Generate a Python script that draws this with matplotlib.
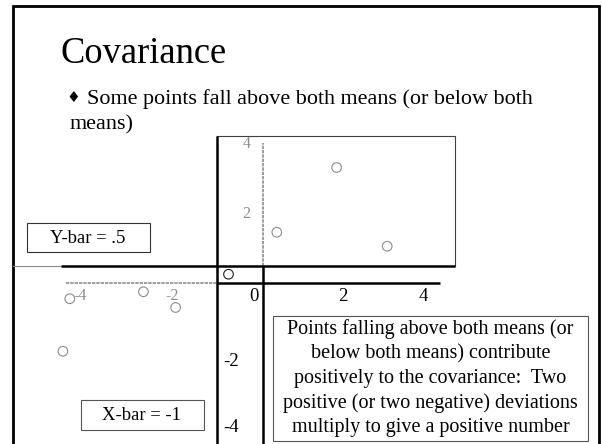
"""
Covariance slide: a scatter of (x, y) pairs with the two means marked,
plus the explanatory text boxes that go with it.

Output : out.png
"""

import matplotlib
matplotlib.use("Agg")   # no display needed — saves to file
import matplotlib.pyplot as plt
from matplotlib.patches import Rectangle

# ── Data ──────────────────────────────────────────────────────
X_VALS = [-4.2, -2.6, -1.9, -0.75, 0.3, 1.6, 2.7, -4.35]
Y_VALS = [-0.45, -0.25, -0.7, 0.25, 1.45, 3.3, 1.05, -1.95]
X_BAR = -1
Y_BAR = 0.5

GRAY_XTICKS = [-4, -2]
GRAY_YTICKS = [2, 4]
BLACK_TICK_LABELS = ["0", "2", "4", "-2", "-4"]

TITLE = "Covariance"
BULLET_LINES = ["Some points fall above both means (or below both",
                "means)"]
NOTE_LINES = [
    "Points falling above both means (or",
    "below both means) contribute",
    "positively to the covariance:  Two",
    "positive (or two negative) deviations",
    "multiply to give a positive number",
]

# ── Layout (pixels, origin top-left) ──────────────────────────
W, H = 602, 444
ORIGIN = (263, 283)          # where (0, 0) of the scatter sits
PX_PER_X = 46
PX_PER_Y = 35
BLACK_TICK_POS = [(254, 296), (343, 296), (423, 296), (231, 361), (231, 427)]

SERIF = "Liberation Serif"
BLACK_LW = 1.8
GRAY = "#8c8c8c"

fig = plt.figure(figsize=(W / 100, H / 100), dpi=100)
fig.patch.set_facecolor("white")

# slide layer in pixel coordinates
ax_s = fig.add_axes([0, 0, 1, 1])
ax_s.set_xlim(0, W)
ax_s.set_ylim(H, 0)
ax_s.axis("off")

# scatter layer in data coordinates, same footprint as the slide
ax = fig.add_axes([0, 0, 1, 1])
ax.set_xlim(-ORIGIN[0] / PX_PER_X, (W - ORIGIN[0]) / PX_PER_X)
ax.set_ylim((ORIGIN[1] - H) / PX_PER_Y, ORIGIN[1] / PX_PER_Y)
ax.set_facecolor("none")
ax.axis("off")


def dx(px):
    """pixel column -> data x"""
    return (px - ORIGIN[0]) / PX_PER_X


def dy(py):
    """pixel row -> data y"""
    return (ORIGIN[1] - py) / PX_PER_Y


# ── Slide frame ───────────────────────────────────────────────
ax_s.plot([13, 13, 599, 599], [H, 6, 6, H], color="black",
          lw=2.0, solid_joinstyle="miter")

# ── Title + bullet ────────────────────────────────────────────
ax_s.text(61, 63, TITLE, fontsize=26.3, family=SERIF, va="baseline")
ax_s.text(73, 97, "\u2666", fontsize=11, family="DejaVu Sans",
          ha="center", va="center")
ax_s.text(87, 104, BULLET_LINES[0], fontsize=15.9, family=SERIF,
          va="baseline")
ax_s.text(70, 129, BULLET_LINES[1], fontsize=15.9, family=SERIF,
          va="baseline")

# ── Chart frame (upper right quadrant), closed by the Y-bar line ─
ax.plot([X_BAR, dx(455), dx(455)], [dy(136), dy(136), Y_BAR],
        color="#404040", lw=0.8, zorder=1)

# ── Gray chart axes (dashed) ──────────────────────────────────
ax.plot([dx(66), X_BAR], [0, 0], color=GRAY, lw=1.2,
        dashes=(2, 0.6), zorder=2)
ax.plot([0, 0], [Y_BAR, max(GRAY_YTICKS)], color=GRAY, lw=1.2,
        dashes=(2, 0.6), zorder=2)

for t in GRAY_XTICKS:
    ax.annotate(f"{t}", (t, 0), xytext=(1, -9.5), textcoords="offset points",
                ha="center", va="center", color=GRAY, fontsize=11.5,
                family=SERIF)
for t in GRAY_YTICKS:
    ax.annotate(f"{t}", (0, t), xytext=(-12, -1), textcoords="offset points",
                ha="center", va="center", color=GRAY, fontsize=11.5,
                family=SERIF)

# ── Scatter points ────────────────────────────────────────────
colors = [GRAY] * len(X_VALS)
colors[3] = "#202020"
ax.scatter(X_VALS, Y_VALS, s=48, facecolors="none", edgecolors=colors,
           linewidths=0.8, zorder=4)

# ── Means (thick black) and black axes ────────────────────────
ax.plot([dx(13), dx(61)], [Y_BAR, Y_BAR], color=GRAY, lw=0.8, zorder=3)
ax.plot([dx(61), dx(455)], [Y_BAR, Y_BAR], color="black", lw=BLACK_LW,
        zorder=3, solid_capstyle="butt")
ax.plot([X_BAR, X_BAR], [dy(136), dy(H)], color="black", lw=BLACK_LW,
        zorder=3, solid_capstyle="butt")
ax.plot([X_BAR, dx(440)], [0, 0], color="black", lw=BLACK_LW,
        zorder=3, solid_capstyle="butt")
ax.plot([0, 0], [Y_BAR, dy(H)], color="black", lw=BLACK_LW,
        zorder=3, solid_capstyle="butt")

for lab, (px, py) in zip(BLACK_TICK_LABELS, BLACK_TICK_POS):
    ax_s.text(px, py, lab, fontsize=13.5, family=SERIF,
              ha="center", va="center")

# ── Mean labels ───────────────────────────────────────────────
ax_s.add_patch(Rectangle((27, 223), 123, 29, facecolor="white",
                         edgecolor="#333333", lw=0.8, zorder=5))
ax_s.text(88, 238, f"Y-bar = .{int(Y_BAR * 10)}", fontsize=13.4,
          family=SERIF, ha="center", va="center", zorder=6)

ax_s.add_patch(Rectangle((81, 400), 123, 30, facecolor="white",
                         edgecolor="#555555", lw=0.8, zorder=5))
ax_s.text(142, 415, f"X-bar = {X_BAR}", fontsize=13.4,
          family=SERIF, ha="center", va="center", zorder=6)

# ── Explanation box ───────────────────────────────────────────
ax_s.add_patch(Rectangle((273, 316), 315, 125, facecolor="white",
                         edgecolor="#555555", lw=0.8, zorder=5))
ax_s.text(430.5, 378, "\n".join(NOTE_LINES), fontsize=14.5,
          family=SERIF, ha="center", va="center", linespacing=1.37,
          zorder=6)

fig.savefig("out.png", dpi=100, facecolor="white")
